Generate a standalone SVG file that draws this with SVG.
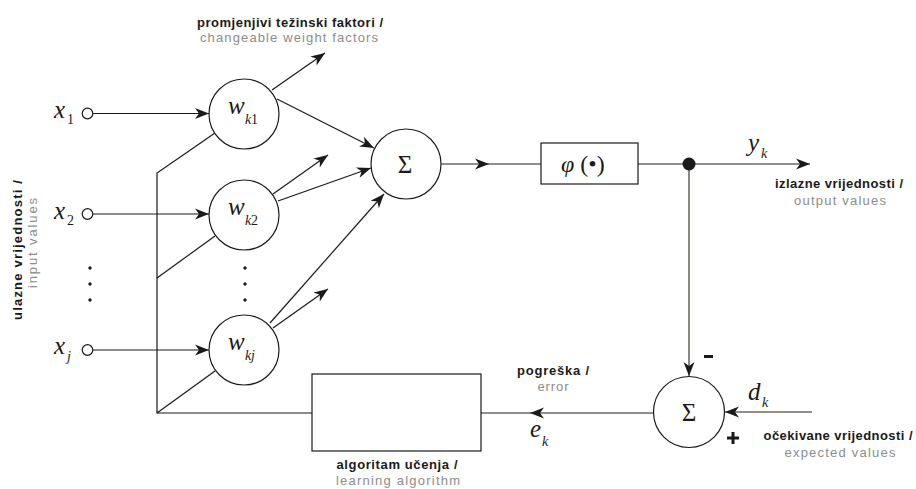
<svg xmlns="http://www.w3.org/2000/svg" width="916" height="489" viewBox="0 0 916 489">
<defs>
<marker id="ah" markerUnits="userSpaceOnUse" markerWidth="16" markerHeight="12" refX="14" refY="5.5" orient="auto" overflow="visible">
<path d="M0,0 L14,5.5 L0,11 L4,5.5 Z" fill="#1a1a1a"/>
</marker>
</defs>
<style>
.k{fill:none;stroke:#1a1a1a;stroke-width:1.2}
.g{fill:none;stroke:#6e6a63;stroke-width:1.6}
.node{fill:#fff;stroke:#1a1a1a;stroke-width:1.2}
.lb{font-family:"Liberation Sans",Arial,sans-serif;font-size:13px;font-weight:bold;fill:#1a1a1a;text-anchor:middle}
.lg{font-family:"Liberation Sans",Arial,sans-serif;font-size:13px;fill:#8c8c8c;text-anchor:middle}
.m{font-family:"Liberation Serif","Times New Roman",serif;font-style:italic;font-size:25px;fill:#1a1a1a}
.s{font-family:"Liberation Serif","Times New Roman",serif;font-style:italic;font-size:14px;fill:#1a1a1a}
.sr{font-family:"Liberation Serif","Times New Roman",serif;font-size:14px;fill:#1a1a1a}
.sig{font-family:"Liberation Serif","Times New Roman",serif;font-size:25px;fill:#1a1a1a;text-anchor:middle}
.dot{fill:#1a1a1a}
</style>

<g id="connectors">
<line class="k" x1="92.5" y1="113.5" x2="209" y2="113.5" marker-end="url(#ah)"/>
<line class="k" x1="92.5" y1="214" x2="209" y2="214" marker-end="url(#ah)"/>
<line class="k" x1="92.5" y1="350" x2="209" y2="350" marker-end="url(#ah)"/>
<line class="k" x1="277" y1="99" x2="374" y2="148" marker-end="url(#ah)"/>
<line class="k" x1="278" y1="201" x2="371" y2="168" marker-end="url(#ah)"/>
<line class="k" x1="270" y1="323" x2="384" y2="194" marker-end="url(#ah)"/>
<line class="k" x1="272" y1="90" x2="325" y2="53" marker-end="url(#ah)"/>
<line class="k" x1="273" y1="194" x2="328" y2="155" marker-end="url(#ah)"/>
<line class="k" x1="273" y1="328" x2="328" y2="289" marker-end="url(#ah)"/>
<polyline class="k" points="215,133 157,173 157,413 312,413"/>
<line class="k" x1="215" y1="236" x2="157" y2="278"/>
<line class="k" x1="215" y1="371" x2="157" y2="413"/>
<line class="g" x1="441" y1="164" x2="489" y2="164" marker-end="url(#ah)"/>
<line class="g" x1="488" y1="164" x2="541" y2="164"/>
<line class="g" x1="638" y1="164" x2="810" y2="164" marker-end="url(#ah)"/>
<line class="g" x1="689" y1="164" x2="689" y2="376" marker-end="url(#ah)"/>
<line class="g" x1="654" y1="413" x2="530" y2="413" marker-end="url(#ah)"/>
<line class="g" x1="531" y1="413" x2="481" y2="413"/>
<line class="g" x1="812" y1="412" x2="725" y2="412" marker-end="url(#ah)"/>
</g>

<g id="in1"><circle class="node" cx="87.5" cy="113.5" r="5.3"/><text class="m" x="54" y="118">x</text><text class="sr" x="67" y="124">1</text></g>
<g id="in2"><circle class="node" cx="87.5" cy="214" r="5.3"/><text class="m" x="54" y="219">x</text><text class="sr" x="67" y="225">2</text></g>
<g id="inj"><circle class="node" cx="87.5" cy="350" r="5.3"/><text class="m" x="54" y="354">x</text><text class="s" x="67" y="361">j</text></g>
<g id="dots-in"><circle class="dot" cx="90" cy="268" r="1.7"/><circle class="dot" cx="90" cy="284" r="1.7"/><circle class="dot" cx="90" cy="300" r="1.7"/></g>
<g id="dots-w"><circle class="dot" cx="245" cy="268" r="1.7"/><circle class="dot" cx="245" cy="284" r="1.7"/><circle class="dot" cx="245" cy="300" r="1.7"/></g>

<g id="wk1"><circle class="node" cx="244" cy="114" r="35"/><text class="m" x="228" y="114">w</text><text class="s" x="245" y="124">k</text><text class="sr" x="251" y="124">1</text></g>
<g id="wk2"><circle class="node" cx="244" cy="215" r="35"/><text class="m" x="228" y="215">w</text><text class="s" x="245" y="225">k</text><text class="sr" x="251" y="225">2</text></g>
<g id="wkj"><circle class="node" cx="244" cy="350" r="35"/><text class="m" x="228" y="350">w</text><text class="s" x="245" y="360">k</text><text class="s" x="251" y="360">j</text></g>

<g id="sum"><circle class="node" cx="406" cy="164" r="35"/><text class="sig" x="405" y="173">Σ</text></g>
<g id="activation"><rect class="node" x="541" y="143" width="97" height="41"/><text x="561" y="172" style="font-family:'Liberation Serif','Times New Roman',serif;font-size:24px;fill:#1a1a1a"><tspan font-style="italic">φ</tspan> (•)</text></g>
<g id="junction"><circle cx="689" cy="164" r="6.5" fill="#1a1a1a"/></g>
<g id="yk"><text class="m" x="748" y="151">y</text><text class="s" x="761" y="158">k</text></g>
<g id="out-label"><text class="lb" x="839" y="188" textLength="128" lengthAdjust="spacing">izlazne vrijednosti /</text><text class="lg" x="840" y="205" textLength="92" lengthAdjust="spacing">output values</text></g>

<g id="errsum"><circle class="node" cx="689" cy="412" r="35.5"/><text class="sig" x="689" y="421">Σ</text></g>
<g id="minus"><rect x="704" y="355" width="9" height="3" fill="#1a1a1a"/></g>
<g id="plus"><rect x="727" y="436.5" width="12" height="3" fill="#1a1a1a"/><rect x="731.5" y="432" width="3" height="12" fill="#1a1a1a"/></g>
<g id="dk"><text class="m" x="748" y="400">d</text><text class="s" x="762" y="407">k</text></g>
<g id="expected-label"><text class="lb" x="838" y="440" textLength="149" lengthAdjust="spacing">očekivane vrijednosti /</text><text class="lg" x="840" y="457" textLength="111" lengthAdjust="spacing">expected values</text></g>
<g id="ek"><text class="m" x="530" y="437">e</text><text class="s" x="542" y="446">k</text></g>
<g id="error-label"><text class="lb" x="553" y="375" textLength="72" lengthAdjust="spacing">pogreška /</text><text class="lg" x="553" y="391" textLength="31" lengthAdjust="spacing">error</text></g>

<g id="learning"><rect class="node" x="312" y="374" width="169" height="77"/><text class="lb" x="397" y="469" textLength="121" lengthAdjust="spacing">algoritam učenja /</text><text class="lg" x="398" y="485" textLength="124" lengthAdjust="spacing">learning algorithm</text></g>

<g id="weights-label"><text class="lb" x="290" y="27" textLength="186" lengthAdjust="spacing">promjenjivi težinski faktori /</text><text class="lg" x="289" y="42" textLength="178" lengthAdjust="spacing">changeable weight factors</text></g>

<g id="inputs-label"><text class="lb" transform="translate(22,250) rotate(-90)" x="0" y="0" textLength="140" lengthAdjust="spacing">ulazne vrijednosti /</text><text class="lg" transform="translate(37,243) rotate(-90)" x="0" y="0" textLength="90" lengthAdjust="spacing">input values</text></g>
</svg>
